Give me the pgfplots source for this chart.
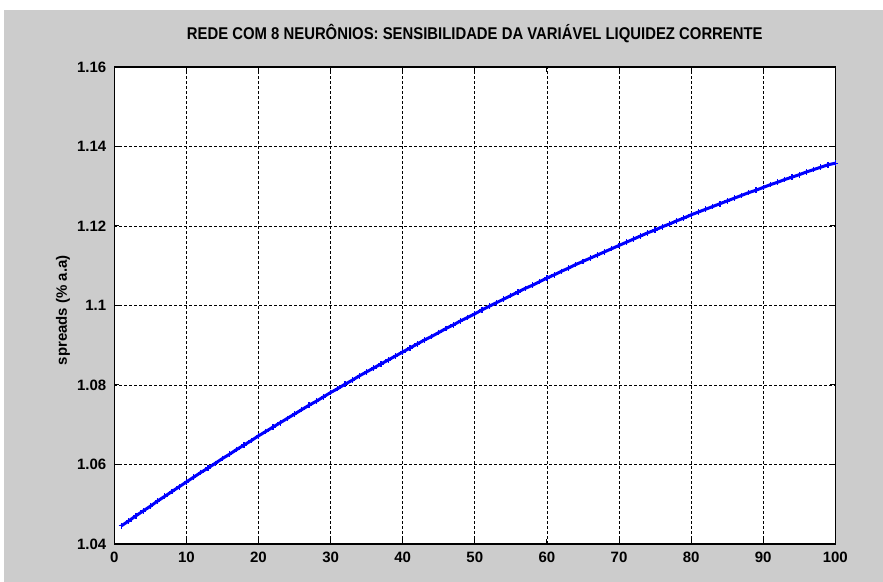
\documentclass[border=0pt]{standalone}
\usepackage{fontspec}
\setmainfont{Liberation Sans}
\newfontfamily\narrowfont[FakeStretch=0.875]{Liberation Sans}
\usepackage{pgfplots}
\pgfplotsset{compat=1.18}
\definecolor{figgray}{RGB}{204,204,204}
\begin{document}
\begin{tikzpicture}[x=0.5pt,y=0.5pt]
\useasboundingbox (-114.3,-38) rectangle (768.7,544);
\fill[white] (-114.3,-38) rectangle (768.7,544);
\fill[figgray] (-110.3,-38) rectangle (768.7,534);
\begin{axis}[
  at={(0,0)}, anchor=south west,
  scale only axis, width=360.5pt, height=238.5pt,
  xmin=0, xmax=100, ymin=1.04, ymax=1.16,
  axis background/.style={fill=white},
  axis line style={black, line width=0.6pt},
  xtick={0,10,20,30,40,50,60,70,80,90,100},
  xticklabels={0,10,20,30,40,50,60,70,80,90,100},
  ytick={1.04,1.06,1.08,1.10,1.12,1.14,1.16},
  yticklabels={1.04,1.06,1.08,1.1,1.12,1.14,1.16},
  scaled y ticks=false,
  tick align=inside, major tick length=2.5pt,
  tick style={black, line width=0.5pt},
  xtick pos=both, ytick pos=both,
  tick label style={font=\bfseries\fontsize{7.5}{9}\selectfont},
  xticklabel style={yshift=-0.5pt},
  yticklabel style={xshift=-0.5pt},
  grid=major,
  major grid style={black, line width=0.4pt, dash pattern=on 1.5pt off 1pt},
  title={\narrowfont\bfseries\fontsize{8.5}{10}\selectfont REDE COM 8 NEURÔNIOS: SENSIBILIDADE DA VARIÁVEL LIQUIDEZ CORRENTE},
  title style={at={(axis description cs:0.5,1)}, anchor=base, yshift=7.5pt},
  ylabel={\bfseries spreads (\% a.a)},
  ylabel style={at={(axis description cs:-0.071,0.49)}, anchor=center, font=\fontsize{7.5}{9}\selectfont},
]
\addplot[blue, line width=1.5pt, mark=+, mark size=1.4pt, mark options={solid, line width=0.6pt}] coordinates {
(1,1.0446) (2,1.0458) (3,1.0471) (4,1.0483) (5,1.0495) (6,1.0508) (7,1.0520) (8,1.0532) (9,1.0544) (10,1.0556)
(11,1.0568) (12,1.0580) (13,1.0591) (14,1.0603) (15,1.0615) (16,1.0626) (17,1.0638) (18,1.0649) (19,1.0660) (20,1.0672)
(21,1.0683) (22,1.0694) (23,1.0705) (24,1.0716) (25,1.0727) (26,1.0738) (27,1.0749) (28,1.0759) (29,1.0770) (30,1.0781)
(31,1.0791) (32,1.0802) (33,1.0812) (34,1.0823) (35,1.0833) (36,1.0843) (37,1.0853) (38,1.0863) (39,1.0873) (40,1.0883)
(41,1.0893) (42,1.0903) (43,1.0913) (44,1.0922) (45,1.0932) (46,1.0942) (47,1.0951) (48,1.0961) (49,1.0970) (50,1.0979)
(51,1.0989) (52,1.0998) (53,1.1007) (54,1.1016) (55,1.1025) (56,1.1034) (57,1.1043) (58,1.1051) (59,1.1060) (60,1.1069)
(61,1.1077) (62,1.1086) (63,1.1094) (64,1.1103) (65,1.1111) (66,1.1119) (67,1.1127) (68,1.1135) (69,1.1143) (70,1.1151)
(71,1.1159) (72,1.1167) (73,1.1175) (74,1.1183) (75,1.1190) (76,1.1198) (77,1.1205) (78,1.1213) (79,1.1220) (80,1.1228)
(81,1.1235) (82,1.1242) (83,1.1249) (84,1.1256) (85,1.1263) (86,1.1270) (87,1.1277) (88,1.1284) (89,1.1290) (90,1.1297)
(91,1.1304) (92,1.1310) (93,1.1317) (94,1.1323) (95,1.1329) (96,1.1336) (97,1.1342) (98,1.1348) (99,1.1354) (100,1.1358)
};
\end{axis}
\end{tikzpicture}
\end{document}
